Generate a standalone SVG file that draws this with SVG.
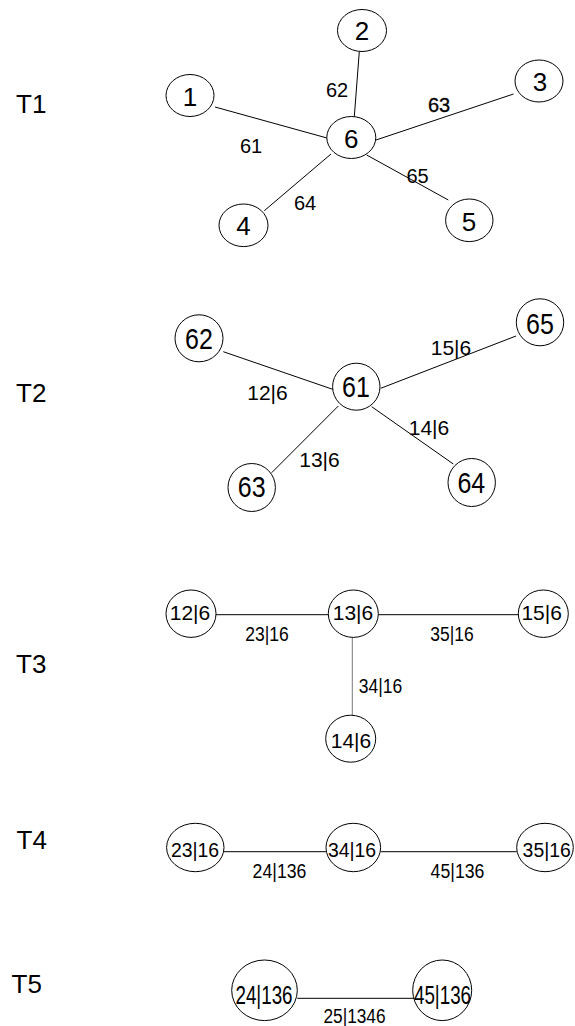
<svg xmlns="http://www.w3.org/2000/svg" width="575" height="1026" viewBox="0 0 575 1026">
  <style>
    .node { fill: #ffffff; stroke: #000000; stroke-width: 1; }
    .edge { stroke: #000000; stroke-width: 1; fill: none; }
    text { font-family: "Liberation Sans", Arial, sans-serif; fill: #000000; text-anchor: middle; }
    .tl { text-anchor: start; font-size: 26px; }
    .n1 { font-size: 26px; }
    .e1 { font-size: 20px; }
    .e2 { font-size: 21px; }
    .n3 { font-size: 21px; }
  </style>
  <rect width="575" height="1026" fill="#ffffff"/>

  <!-- tree labels -->
  <g id="tree-labels">
    <text class="tl" x="16" y="113">T1</text>
    <text class="tl" x="16" y="401.5">T2</text>
    <text class="tl" x="16" y="672.5">T3</text>
    <text class="tl" x="16.5" y="849">T4</text>
    <text class="tl" x="11.5" y="992.5">T5</text>
  </g>

  <!-- connectors -->
  <g id="connectors">
    <!-- T1 -->
    <line class="edge" x1="215" y1="107" x2="327" y2="138"/>
    <line class="edge" x1="359.3" y1="51.5" x2="354.3" y2="116.7"/>
    <line class="edge" x1="513.5" y1="94" x2="376" y2="140"/>
    <line class="edge" x1="264.3" y1="210.7" x2="331" y2="154"/>
    <line class="edge" x1="448.3" y1="200" x2="366.7" y2="155"/>
    <!-- T2 -->
    <line class="edge" x1="223.3" y1="351.7" x2="332.7" y2="389.3"/>
    <line class="edge" x1="516" y1="336" x2="380.7" y2="388.3"/>
    <line class="edge" x1="271.7" y1="472.7" x2="338.3" y2="406"/>
    <line class="edge" x1="453.3" y1="464" x2="371.7" y2="406.7"/>
    <!-- T3 -->
    <line class="edge" x1="216" y1="614.7" x2="328.3" y2="614.7"/>
    <line class="edge" x1="378.3" y1="614.7" x2="518.3" y2="614.7"/>
    <line class="edge" x1="352.3" y1="637.3" x2="352.3" y2="715.5" style="stroke:#7a7a7a"/>
    <!-- T4 -->
    <line class="edge" x1="224" y1="851.7" x2="326" y2="851.7"/>
    <line class="edge" x1="380.7" y1="851.7" x2="516.7" y2="851.7"/>
    <!-- T5 -->
    <line class="edge" x1="297.3" y1="998.3" x2="415" y2="998.3"/>
  </g>

  <!-- connector labels -->
  <g id="connector-labels">
    <text class="e1" x="251" y="153">61</text>
    <text class="e1" x="337" y="97">62</text>
    <text class="e1" x="439" y="112" stroke="#000" stroke-width="0.3">63</text>
    <text class="e1" x="305" y="210">64</text>
    <text class="e1" x="417.5" y="183">65</text>

    <text class="e2" x="267.5" y="400">12|6</text>
    <text class="e2" x="451" y="355">15|6</text>
    <text class="e2" x="429" y="435">14|6</text>
    <text class="e2" x="319.5" y="466.7">13|6</text>

    <text font-size="17.5" transform="translate(267,641) scale(1,1.14)">23|16</text>
    <text font-size="17.5" transform="translate(452,641) scale(1,1.14)">35|16</text>
    <text font-size="17.5" transform="translate(380.5,693.3) scale(1,1.14)">34|16</text>

    <text font-size="17.7" transform="translate(279.5,877.7) scale(1,1.18)">24|136</text>
    <text font-size="17.7" transform="translate(457.5,877.7) scale(1,1.18)">45|136</text>

    <text font-size="17.3" transform="translate(354.5,1022.7) scale(1,1.2)">25|1346</text>
  </g>

  <!-- T1 nodes -->
  <g id="t1-n1"><ellipse class="node" cx="190" cy="95.5" rx="24" ry="21"/><text class="n1" x="190" y="106">1</text></g>
  <g id="t1-n2"><ellipse class="node" cx="362" cy="30.5" rx="24.5" ry="21"/><text class="n1" x="362" y="40">2</text></g>
  <g id="t1-n3"><ellipse class="node" cx="539" cy="81" rx="24" ry="21"/><text class="n1" x="540" y="90.5">3</text></g>
  <g id="t1-n6"><ellipse class="node" cx="351.3" cy="137.5" rx="24.5" ry="21"/><text class="n1" x="351.3" y="147.5">6</text></g>
  <g id="t1-n4"><ellipse class="node" cx="243.5" cy="225.3" rx="24.5" ry="21.3"/><text class="n1" x="243.5" y="235">4</text></g>
  <g id="t1-n5"><ellipse class="node" cx="469.3" cy="220.3" rx="23.7" ry="21.3"/><text class="n1" x="469" y="230.5">5</text></g>

  <!-- T2 nodes -->
  <g id="t2-n62"><ellipse class="node" cx="199" cy="338.3" rx="24" ry="23.5"/><text font-size="25" transform="translate(199,349.3) scale(1,1.16)">62</text></g>
  <g id="t2-n65"><ellipse class="node" cx="540" cy="322.3" rx="23.7" ry="23.5"/><text font-size="25" transform="translate(540,334.3) scale(1,1.16)">65</text></g>
  <g id="t2-n61"><ellipse class="node" cx="356.3" cy="386.7" rx="23.7" ry="23.5"/><text font-size="25" transform="translate(356,397.3) scale(1,1.16)">61</text></g>
  <g id="t2-n63"><ellipse class="node" cx="251.7" cy="487.5" rx="23.7" ry="24"/><text font-size="25" transform="translate(251.7,497.3) scale(1,1.16)">63</text></g>
  <g id="t2-n64"><ellipse class="node" cx="471.7" cy="482.5" rx="23.7" ry="24"/><text font-size="25" transform="translate(471.3,492.7) scale(1,1.16)">64</text></g>

  <!-- T3 nodes -->
  <g id="t3-n126"><ellipse class="node" cx="191" cy="613.7" rx="25" ry="23.7"/><text class="n3" x="190" y="620">12|6</text></g>
  <g id="t3-n136"><ellipse class="node" cx="353.3" cy="613.7" rx="25" ry="23.7"/><text class="n3" x="353" y="620">13|6</text></g>
  <g id="t3-n156"><ellipse class="node" cx="543.3" cy="613.7" rx="25" ry="23.7"/><text class="n3" x="541.7" y="620">15|6</text></g>
  <g id="t3-n146"><ellipse class="node" cx="350.7" cy="738.7" rx="25" ry="23.5"/><text class="n3" x="351" y="748.3">14|6</text></g>

  <!-- T4 nodes -->
  <g id="t4-n2316"><ellipse class="node" cx="195.3" cy="847.5" rx="28.7" ry="24.2"/><text font-size="19.4" transform="translate(195,856.7) scale(1,1.08)">23|16</text></g>
  <g id="t4-n3416"><ellipse class="node" cx="353.3" cy="847.5" rx="27.3" ry="24.2"/><text font-size="19.4" transform="translate(352,856.7) scale(1,1.08)">34|16</text></g>
  <g id="t4-n3516"><ellipse class="node" cx="545" cy="847.5" rx="28.3" ry="24.2"/><text font-size="19.4" transform="translate(546.7,856.7) scale(1,1.08)">35|16</text></g>

  <!-- T5 nodes -->
  <g id="t5-n24136"><ellipse class="node" cx="264.5" cy="990.3" rx="32.8" ry="30.3"/><text font-size="18.8" transform="translate(264,1004) scale(1,1.4)">24|136</text></g>
  <g id="t5-n45136"><ellipse class="node" cx="442.2" cy="990.3" rx="29.5" ry="30.3"/><text font-size="18.8" transform="translate(442.5,1004) scale(1,1.4)">45|136</text></g>
</svg>
